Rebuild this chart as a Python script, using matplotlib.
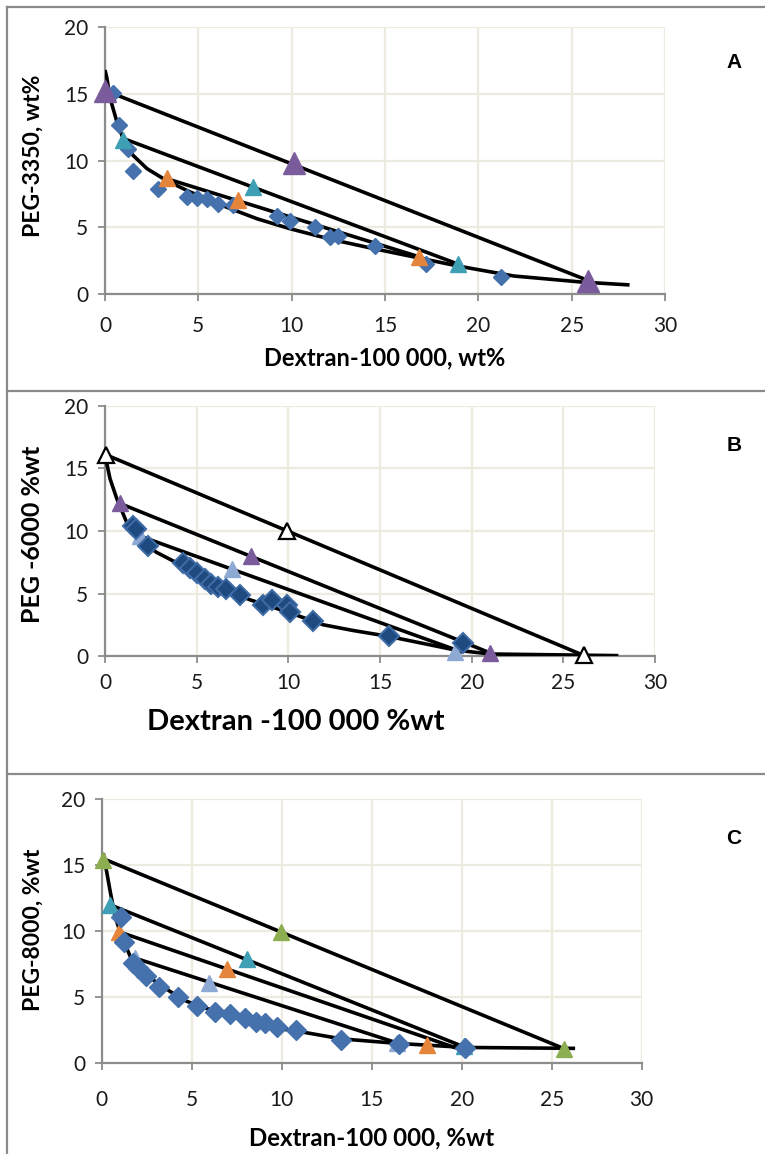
import matplotlib
matplotlib.use("Agg")
import matplotlib.pyplot as plt
from matplotlib.lines import Line2D

plt.rcParams['font.family'] = ['Lato', 'DejaVu Sans']

W, H = 765, 1154
DPI = 100

# ---------------- Panel A data (PEG-3350) ----------------
A_curve_x = [0.0, 0.1, 0.27, 0.64, 0.97, 1.5, 2.25, 3.3, 4.56, 6.35, 8.15, 9.9, 12.1, 14.4, 18.9, 21.9, 25.5, 28.1]
A_curve_y = [16.8, 16.2, 14.7, 12.9, 11.65, 10.4, 9.4, 8.5, 7.65, 6.6, 5.64, 4.9, 4.1, 3.4, 2.1, 1.35, 0.9, 0.68]
A_diam_x = [0.43, 0.77, 1.25, 1.52, 2.83, 4.38, 4.92, 5.46, 6.08, 6.85, 9.2, 9.93, 11.27, 12.08, 12.5, 14.44, 17.2, 21.2]
A_diam_y = [15.04, 12.7, 10.9, 9.2, 7.84, 7.27, 7.2, 7.1, 6.77, 6.7, 5.84, 5.44, 5.06, 4.26, 4.34, 3.58, 2.25, 1.3]
A_purple_x = [0.0, 10.1, 25.9]
A_purple_y = [15.2, 9.8, 0.95]
A_teal_x = [0.98, 7.95, 18.9]
A_teal_y = [11.55, 8.0, 2.25]
A_orange_x = [3.3, 7.1, 16.8]
A_orange_y = [8.7, 7.05, 2.8]
A_ties = [((0.3, 15.1), (25.9, 1.0)), ((1.0, 11.65), (18.9, 2.25)), ((3.3, 8.65), (16.8, 2.8))]

# ---------------- Panel B data (PEG-6000) ----------------
B_curve_x = [0.0, 0.27, 0.64, 1.18, 1.9, 2.8, 4.25, 6.1, 7.9, 10.1, 11.9, 13.5, 15.5, 19.1, 21.0, 28.0]
B_curve_y = [16.1, 14.2, 12.6, 10.7, 9.35, 8.3, 7.2, 5.6, 4.5, 3.45, 2.5, 2.05, 1.56, 0.48, 0.16, 0.03]
B_diam_x = [1.54, 1.7, 2.36, 4.26, 4.63, 5.03, 5.44, 5.8, 6.17, 6.62, 7.39, 8.62, 9.11, 9.94, 10.07, 11.34, 15.5, 19.5]
B_diam_y = [10.4, 10.2, 8.77, 7.47, 7.07, 6.67, 6.13, 5.8, 5.5, 5.38, 4.92, 4.11, 4.46, 4.11, 3.5, 2.77, 1.61, 1.02]
B_white_x = [0.05, 9.94, 26.1]
B_white_y = [16.1, 10.0, 0.05]
B_purple_x = [0.82, 7.95, 21.0]
B_purple_y = [12.2, 8.0, 0.25]
B_light_x = [1.9, 6.93, 19.1]
B_light_y = [9.6, 7.0, 0.35]
B_ties = [((0.05, 16.1), (26.1, 0.05)), ((0.82, 12.2), (21.0, 0.25)), ((1.9, 9.6), (19.4, 0.35))]

# ---------------- Panel C data (PEG-8000) ----------------
C_curve_x = [0.09, 0.46, 0.74, 1.11, 1.74, 3.05, 4.53, 5.46, 7.69, 9.7, 10.8, 13.3, 16.5, 20.2, 26.3]
C_curve_y = [15.9, 13.1, 11.1, 9.6, 7.6, 6.1, 4.8, 4.3, 3.4, 2.65, 2.45, 1.85, 1.5, 1.2, 1.13]
C_diam_x = [1.07, 1.26, 1.74, 2.02, 2.45, 3.2, 4.22, 5.32, 6.3, 7.13, 7.97, 8.56, 9.08, 9.73, 10.8, 13.3, 16.5, 20.2]
C_diam_y = [11.1, 9.2, 7.6, 7.2, 6.6, 5.8, 5.05, 4.3, 3.9, 3.73, 3.41, 3.15, 3.03, 2.73, 2.52, 1.77, 1.46, 1.14]
C_green_x = [0.05, 9.97, 25.7]
C_green_y = [15.4, 9.9, 1.1]
C_teal_x = [0.46, 8.05, 20.1]
C_teal_y = [12.0, 7.9, 1.3]
C_orange_x = [0.97, 6.95, 18.05]
C_orange_y = [9.95, 7.1, 1.4]
C_light_x = [1.87, 5.95, 16.4]
C_light_y = [7.95, 6.1, 1.5]
C_ties = [((0.05, 15.5), (25.7, 1.1)), ((0.46, 12.0), (20.2, 1.2)),
          ((0.97, 9.95), (19.6, 1.2)), ((1.87, 7.95), (16.5, 1.5))]

x_ticks = [0, 5, 10, 15, 20, 25, 30]
y_ticks = [0, 5, 10, 15, 20]

BLUE = '#4571AC'
NAVY = '#1F4A80'
PURPLE = '#7A5C9C'
TEAL = '#3E9FB5'
ORANGE = '#E5853C'
LIGHT = '#8EA9D3'
GREEN = '#8DAE50'
GRID = '#EDEAE0'
AXC = '#8C8C8C'

fig = plt.figure(figsize=(W / DPI, H / DPI), dpi=DPI)


def make_axes(l, t, r, b, xpad=11):
    ax = fig.add_axes([l / W, 1 - b / H, (r - l) / W, (b - t) / H])
    ax.set_xlim(0, 30)
    ax.set_ylim(0, 20)
    ax.set_xticks(x_ticks)
    ax.set_yticks(y_ticks)
    ax.grid(True, color=GRID, lw=1.6, zorder=0)
    ax.set_axisbelow(True)
    for s in ['top', 'right']:
        ax.spines[s].set_visible(False)
    for s in ['left', 'bottom']:
        ax.spines[s].set_color(AXC)
        ax.spines[s].set_linewidth(1.6)
        ax.spines[s].set_zorder(1)
    ax.tick_params(axis='both', colors=AXC, length=5, width=1.3, labelsize=15,
                   labelcolor='#1a1a1a')
    ax.tick_params(axis='x', pad=xpad)
    ax.tick_params(axis='y', pad=7)
    return ax


def draw_lines(ax, cx, cy, ties):
    ax.plot(cx, cy, color='black', lw=2.6, zorder=3, solid_capstyle='butt')
    for (x0, y0), (x1, y1) in ties:
        ax.plot([x0, x1], [y0, y1], color='black', lw=2.6, zorder=3)


# Panel A
axA = make_axes(105, 27.3, 665, 294)
draw_lines(axA, A_curve_x, A_curve_y, A_ties)
axA.plot(A_diam_x, A_diam_y, 'D', ms=7.8, color=BLUE, mec=BLUE, zorder=4, clip_on=False)
axA.plot(A_orange_x, A_orange_y, '^', ms=12, color=ORANGE, mec=ORANGE, zorder=4, clip_on=False)
axA.plot(A_teal_x, A_teal_y, '^', ms=12, color=TEAL, mec=TEAL, zorder=4, clip_on=False)
axA.plot(A_purple_x, A_purple_y, '^', ms=16, color=PURPLE, mec=PURPLE, zorder=5, clip_on=False)

# Panel B
axB = make_axes(105, 406, 655, 656, xpad=7)
draw_lines(axB, B_curve_x, B_curve_y, B_ties)
axB.plot(B_light_x, B_light_y, '^', ms=11, color=LIGHT, mec=LIGHT, zorder=4, clip_on=False)
axB.plot(B_diam_x, B_diam_y, 'D', ms=10, color=NAVY, mec='#3E6BA5', mew=1.5, zorder=5, clip_on=False)
axB.plot(B_purple_x, B_purple_y, '^', ms=11, color=PURPLE, mec=PURPLE, zorder=5, clip_on=False)
axB.plot(B_white_x, B_white_y, '^', ms=11, color='white', mec='black', mew=1.6, zorder=6, clip_on=False)

# Panel C
axC = make_axes(101.7, 799, 641.7, 1063.3, xpad=14)
draw_lines(axC, C_curve_x, C_curve_y, C_ties)
axC.plot(C_light_x, C_light_y, '^', ms=11, color=LIGHT, mec=LIGHT, zorder=4, clip_on=False)
axC.plot(C_orange_x, C_orange_y, '^', ms=11, color=ORANGE, mec=ORANGE, zorder=4, clip_on=False)
axC.plot(C_teal_x, C_teal_y, '^', ms=11, color=TEAL, mec=TEAL, zorder=4, clip_on=False)
axC.plot(C_green_x, C_green_y, '^', ms=11, color=GREEN, mec=GREEN, zorder=4, clip_on=False)
axC.plot(C_diam_x, C_diam_y, 'D', ms=10.5, color=BLUE, mec=BLUE, zorder=5, clip_on=False)


def ftext(x, y, s, **kw):
    fig.text(x / W, 1 - y / H, s, **kw)


lab = dict(fontweight='bold', color='black', ha='center', va='center')
ftext(33, 156, 'PEG-3350, wt%', rotation=90, fontsize=16.5, **lab)
ftext(385, 358, 'Dextran-100 000, wt%', fontsize=17, **lab)
ftext(33, 534, 'PEG -6000 %wt', rotation=90, fontsize=18, **lab)
ftext(296, 722, 'Dextran -100 000 %wt', fontsize=21, **lab)
ftext(33, 930, 'PEG-8000, %wt', rotation=90, fontsize=16.5, **lab)
ftext(372, 1138, 'Dextran-100 000, %wt', fontsize=17.3, **lab)

pl = dict(fontweight='bold', color='black', ha='center', va='center', fontsize=15,
          family=['Liberation Sans', 'DejaVu Sans'])
ftext(734, 62, 'A', **pl)
ftext(734, 445, 'B', **pl)
ftext(734, 838, 'C', **pl)

# panel frame lines
BORDER = '#8A8A8A'
for yy in [7, 391, 774]:
    fig.add_artist(Line2D([7 / W, 1], [1 - yy / H, 1 - yy / H], color=BORDER, lw=1.6))
fig.add_artist(Line2D([7 / W, 7 / W], [1 - 7 / H, 0], color=BORDER, lw=1.6))

fig.savefig('out.png', dpi=DPI)
